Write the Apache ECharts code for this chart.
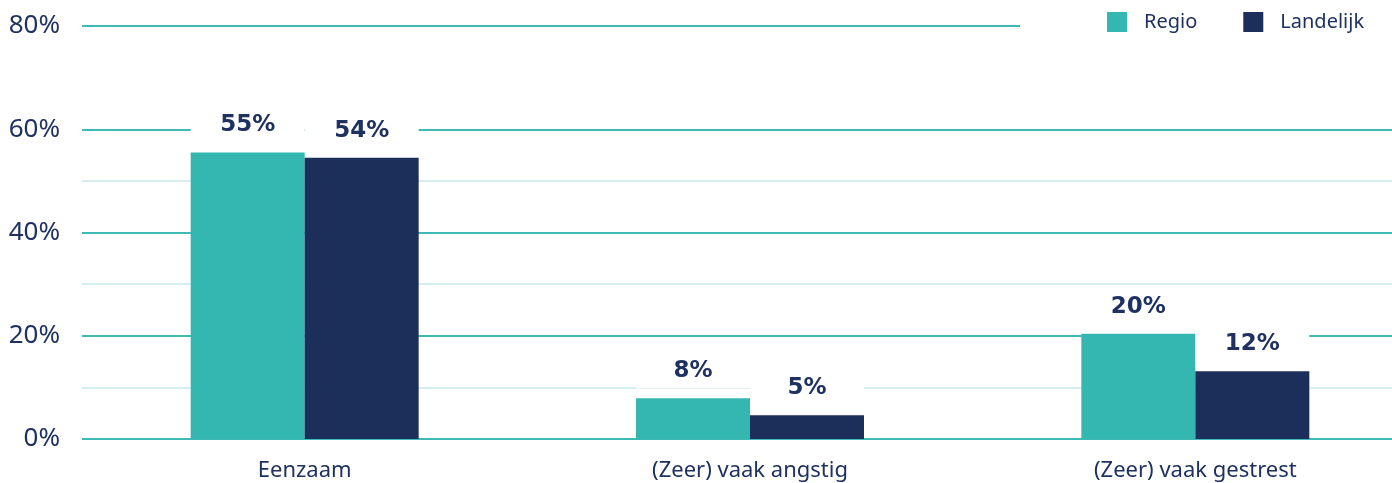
<!DOCTYPE html>
<html>
<head>
<meta charset="utf-8">
<script src="https://cdn.jsdelivr.net/npm/echarts@6/dist/echarts.min.js"></script>
<style>
  html, body { margin: 0; padding: 0; background: #fff; overflow: hidden; }
  /* the plot runs past the right edge of the window, as in the original */
  #chart { width: 1418px; height: 483px; }
</style>
</head>
<body>
<div id="chart"></div>
<script>
// data
const categories = ['Eenzaam', '(Zeer) vaak angstig', '(Zeer) vaak gestrest'];
const seriesNames = ['Regio', 'Landelijk'];
const regio = [55.5, 7.9, 20.4];
const landelijk = [54.5, 4.6, 13.1];
const regioLabels = ['55%', '8%', '20%'];
const landelijkLabels = ['54%', '5%', '12%'];
const yLabelled = [0, 20, 40, 60, 80];

const teal = '#35b7b1';
const navy = '#1c2e5a';
const textNavy = '#1e3160';
const gridMajor = '#3dbab3';
const gridMinor = '#d6efee';

// one split line every 10%; light ones in between, none at 70%
const splitColors = [gridMajor, gridMinor, gridMajor, gridMinor, gridMajor,
                     gridMinor, gridMajor, 'rgba(0,0,0,0)', gridMajor];

function makeLabel(texts) {
    return {
        show: true,
        position: 'top',
        distance: 10,
        formatter: p => texts[p.dataIndex],
        color: textNavy,
        fontFamily: 'DejaVu Sans',
        fontWeight: 'bold',
        fontSize: 23,
        width: 114,
        height: 34,
        lineHeight: 34,
        align: 'center',
        backgroundColor: '#fff'
    };
}

const chart = echarts.init(document.getElementById('chart'));
chart.setOption({
    animation: false,
    grid: { left: 82, right: 0, top: 26, bottom: 44, containLabel: false },
    legend: {
        data: seriesNames,
        orient: 'horizontal',
        left: 1020,
        top: 0,
        width: 380,
        padding: [12, 60, 10, 87],
        backgroundColor: '#fff',
        icon: 'rect',
        itemWidth: 20,
        itemHeight: 20,
        itemGap: 46,
        textStyle: {
            color: textNavy,
            fontFamily: 'Noto Sans',
            fontSize: 20,
            padding: [5, 0, 0, 12]
        }
    },
    xAxis: {
        type: 'category',
        data: categories,
        axisLine: { show: false },
        axisTick: { show: false },
        axisLabel: {
            color: textNavy,
            fontFamily: 'Noto Sans',
            fontSize: 22,
            margin: 21
        }
    },
    yAxis: {
        type: 'value',
        min: 0,
        max: 80,
        interval: 10,
        axisLine: { show: false },
        axisTick: { show: false },
        axisLabel: {
            formatter: v => yLabelled.includes(v) ? v + '%' : '',
            color: textNavy,
            fontFamily: 'Noto Sans',
            fontSize: 26,
            margin: 22
        },
        splitLine: { lineStyle: { color: splitColors, width: 2 } }
    },
    series: [
        {
            name: seriesNames[0],
            type: 'bar',
            data: regio,
            barWidth: 114,
            barGap: '0%',
            itemStyle: { color: teal },
            label: makeLabel(regioLabels)
        },
        {
            name: seriesNames[1],
            type: 'bar',
            data: landelijk,
            barWidth: 114,
            barGap: '0%',
            itemStyle: { color: navy },
            label: makeLabel(landelijkLabels)
        }
    ]
});
</script>
</body>
</html>
